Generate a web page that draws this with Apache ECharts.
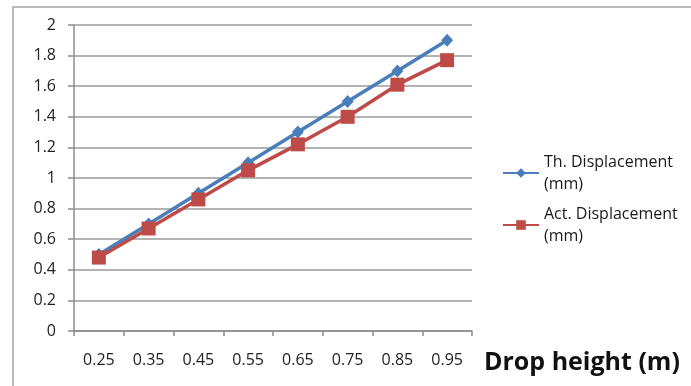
<!DOCTYPE html>
<html>
<head>
<meta charset="utf-8">
<script src="https://cdn.jsdelivr.net/npm/echarts@6/dist/echarts.min.js"></script>
<style>html,body{margin:0;padding:0;background:#fff}#c{width:691px;height:386px}</style>
</head>
<body>
<div id="c"></div>
<script>
const categories = ['0.25','0.35','0.45','0.55','0.65','0.75','0.85','0.95'];
const thDisplacement = [0.5, 0.7, 0.9, 1.1, 1.3, 1.5, 1.7, 1.9];
const actDisplacement = [0.48, 0.67, 0.86, 1.05, 1.22, 1.40, 1.61, 1.77];
const seriesNames = ['Th. Displacement (mm)', 'Act. Displacement (mm)'];
const xAxisTitle = 'Drop height (m)';

const font = '"Open Sans", "Noto Sans", sans-serif';
const chart = echarts.init(document.getElementById('c'), null, {renderer: 'canvas'});
const legendCommon = {
  orient: 'vertical',
  padding: 0,
  itemWidth: 36,
  itemHeight: 12,
  formatter: n => n.replace(' (mm)', '\n(mm)'),
  textStyle: {fontFamily: font, fontSize: 16, color: '#1a1a1a', lineHeight: 22, padding: [22, 0, 0, 0]}
};
chart.setOption({
  animation: false,
  graphic: [{
    type: 'rect', shape: {x: 13, y: 7, width: 700, height: 400},
    style: {fill: 'none', stroke: '#a6a6a6', lineWidth: 1.5}, silent: true, z: -1
  }],
  grid: {left: 74, top: 25, right: 219, bottom: 55},
  legend: [
    Object.assign({left: 502, top: 140, data: [seriesNames[0]]}, legendCommon),
    Object.assign({left: 502, top: 192, data: [seriesNames[1]]}, legendCommon)
  ],
  xAxis: {
    type: 'category', data: categories, boundaryGap: true,
    name: xAxisTitle, nameLocation: 'end', nameGap: 12,
    nameTextStyle: {fontFamily: font, fontSize: 25, fontWeight: 'bold', color: '#111', verticalAlign: 'top', padding: [19, 0, 0, 0]},
    axisLine: {lineStyle: {color: '#8c8c8c', width: 1.5}},
    axisTick: {show: true, alignWithLabel: false, length: 5, lineStyle: {color: '#8c8c8c', width: 1.5}},
    axisLabel: {fontFamily: font, fontSize: 16, color: '#222', margin: 21},
    splitLine: {show: false}
  },
  yAxis: {
    type: 'value', min: 0, max: 2, interval: 0.2,
    axisLine: {show: true, lineStyle: {color: '#8c8c8c', width: 1.5}},
    axisTick: {show: true, inside: false, length: 6, lineStyle: {color: '#8c8c8c', width: 1.5}},
    axisLabel: {fontFamily: font, fontSize: 16, color: '#222', margin: 18,
      formatter: v => String(Math.round(v * 10) / 10)},
    splitLine: {show: true, lineStyle: {color: '#9a9a9a', width: 1.5}}
  },
  series: [
    {
      name: seriesNames[0], type: 'line', data: thDisplacement,
      symbol: 'diamond', symbolSize: [12, 13],
      lineStyle: {color: '#4A7EBB', width: 3.5},
      itemStyle: {color: '#4A7EBB'}, z: 2
    },
    {
      name: seriesNames[1], type: 'line', data: actDisplacement,
      symbol: 'rect', symbolSize: 14,
      lineStyle: {color: '#BE4B48', width: 3.5},
      itemStyle: {color: '#BE4B48'}, z: 3
    }
  ]
});
</script>
</body>
</html>
